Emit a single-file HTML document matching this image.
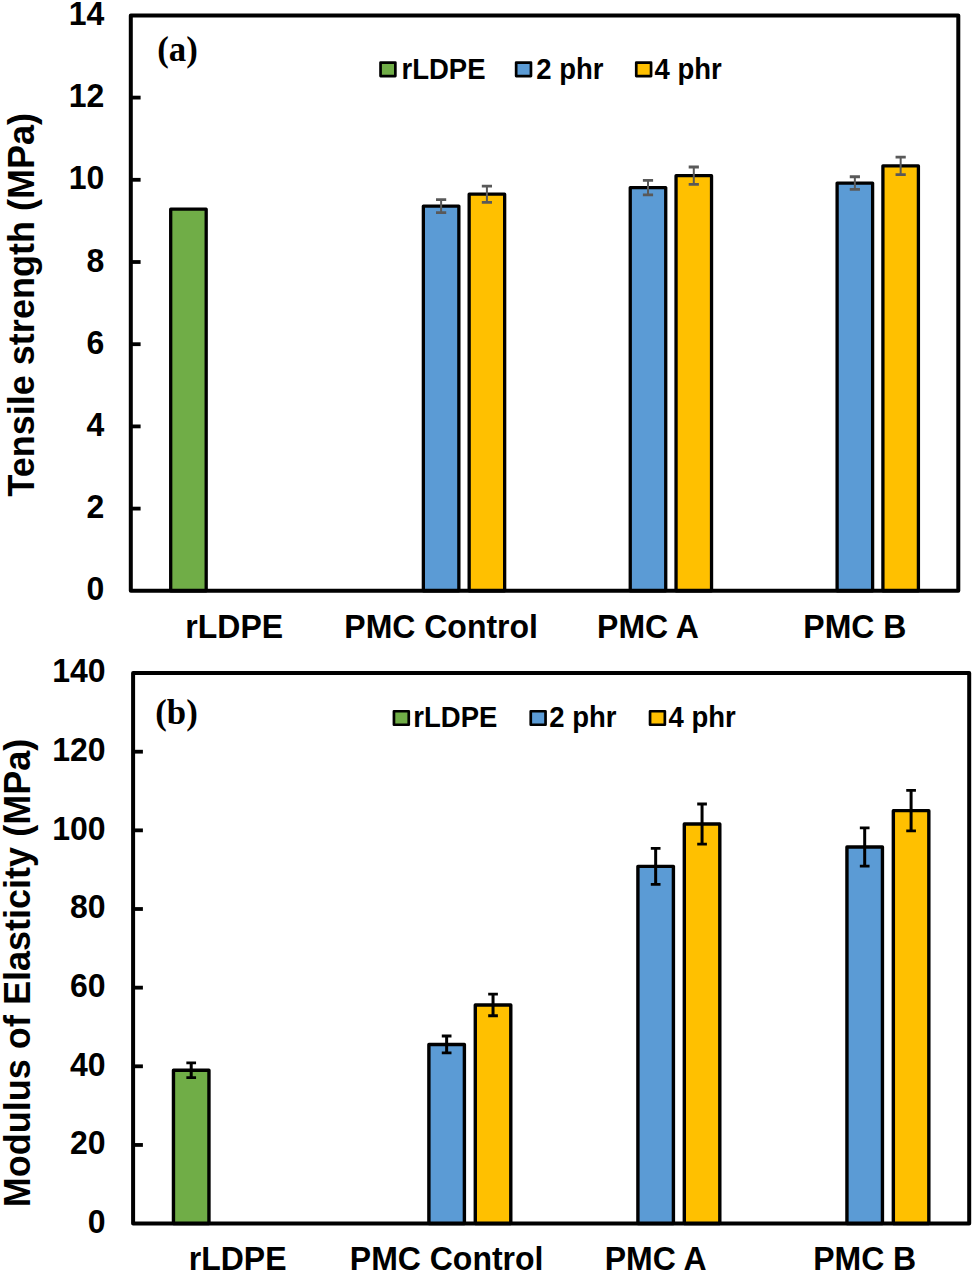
<!DOCTYPE html>
<html><head><meta charset="utf-8"><style>html,body{margin:0;padding:0;background:#fff;}svg{display:block;}</style></head>
<body><svg width="975" height="1274" viewBox="0 0 975 1274">
<rect width="975" height="1274" fill="#fff"/>
<rect x="170.69" y="209.19" width="35.5" height="381.61" fill="#70AD47" stroke="#000" stroke-width="3.3" stroke-linejoin="round"/>
<rect x="423.36" y="206.10" width="35.5" height="384.70" fill="#5B9BD5" stroke="#000" stroke-width="3.3" stroke-linejoin="round"/>
<path d="M441.11 199.61V212.60" stroke="#595959" stroke-width="2.0" fill="none"/>
<path d="M436.01 199.61H446.21M436.01 212.60H446.21" stroke="#595959" stroke-width="2.8" fill="none"/>
<rect x="469.16" y="194.18" width="35.5" height="396.62" fill="#FFC000" stroke="#000" stroke-width="3.3" stroke-linejoin="round"/>
<path d="M486.91 186.05V202.32" stroke="#595959" stroke-width="2.0" fill="none"/>
<path d="M481.81 186.05H492.01M481.81 202.32H492.01" stroke="#595959" stroke-width="2.8" fill="none"/>
<rect x="630.24" y="187.61" width="35.5" height="403.19" fill="#5B9BD5" stroke="#000" stroke-width="3.3" stroke-linejoin="round"/>
<path d="M647.99 180.42V194.80" stroke="#595959" stroke-width="2.0" fill="none"/>
<path d="M642.89 180.42H653.09M642.89 194.80H653.09" stroke="#595959" stroke-width="2.8" fill="none"/>
<rect x="676.04" y="175.69" width="35.5" height="415.11" fill="#FFC000" stroke="#000" stroke-width="3.3" stroke-linejoin="round"/>
<path d="M693.79 166.98V184.40" stroke="#595959" stroke-width="2.0" fill="none"/>
<path d="M688.69 166.98H698.89M688.69 184.40H698.89" stroke="#595959" stroke-width="2.8" fill="none"/>
<rect x="837.11" y="183.09" width="35.5" height="407.71" fill="#5B9BD5" stroke="#000" stroke-width="3.3" stroke-linejoin="round"/>
<path d="M854.86 176.76V189.42" stroke="#595959" stroke-width="2.0" fill="none"/>
<path d="M849.76 176.76H859.96M849.76 189.42H859.96" stroke="#595959" stroke-width="2.8" fill="none"/>
<rect x="882.91" y="165.83" width="35.5" height="424.97" fill="#FFC000" stroke="#000" stroke-width="3.3" stroke-linejoin="round"/>
<path d="M900.66 157.07V174.58" stroke="#595959" stroke-width="2.0" fill="none"/>
<path d="M895.56 157.07H905.76M895.56 174.58H905.76" stroke="#595959" stroke-width="2.8" fill="none"/>
<rect x="130.8" y="15.4" width="827.50" height="575.40" fill="none" stroke="#000" stroke-width="4" stroke-linejoin="round"/>
<text transform="translate(104.30,600.30) scale(1,1.04)" text-anchor="end" font-size="32" font-family="Liberation Sans, sans-serif" font-weight="bold" >0</text>
<path d="M130.8 508.60H140.60000000000002" stroke="#000" stroke-width="3.8"/>
<text transform="translate(104.30,518.10) scale(1,1.04)" text-anchor="end" font-size="32" font-family="Liberation Sans, sans-serif" font-weight="bold" >2</text>
<path d="M130.8 426.40H140.60000000000002" stroke="#000" stroke-width="3.8"/>
<text transform="translate(104.30,435.90) scale(1,1.04)" text-anchor="end" font-size="32" font-family="Liberation Sans, sans-serif" font-weight="bold" >4</text>
<path d="M130.8 344.20H140.60000000000002" stroke="#000" stroke-width="3.8"/>
<text transform="translate(104.30,353.70) scale(1,1.04)" text-anchor="end" font-size="32" font-family="Liberation Sans, sans-serif" font-weight="bold" >6</text>
<path d="M130.8 262.00H140.60000000000002" stroke="#000" stroke-width="3.8"/>
<text transform="translate(104.30,271.50) scale(1,1.04)" text-anchor="end" font-size="32" font-family="Liberation Sans, sans-serif" font-weight="bold" >8</text>
<path d="M130.8 179.80H140.60000000000002" stroke="#000" stroke-width="3.8"/>
<text transform="translate(104.30,189.30) scale(1,1.04)" text-anchor="end" font-size="32" font-family="Liberation Sans, sans-serif" font-weight="bold" >10</text>
<path d="M130.8 97.60H140.60000000000002" stroke="#000" stroke-width="3.8"/>
<text transform="translate(104.30,107.10) scale(1,1.04)" text-anchor="end" font-size="32" font-family="Liberation Sans, sans-serif" font-weight="bold" >12</text>
<text transform="translate(104.30,24.90) scale(1,1.04)" text-anchor="end" font-size="32" font-family="Liberation Sans, sans-serif" font-weight="bold" >14</text>
<text transform="translate(234.24,637.50) scale(1,1.04)" text-anchor="middle" font-size="32" font-family="Liberation Sans, sans-serif" font-weight="bold" >rLDPE</text>
<text transform="translate(441.11,637.50) scale(1,1.04)" text-anchor="middle" font-size="32" font-family="Liberation Sans, sans-serif" font-weight="bold" >PMC Control</text>
<text transform="translate(647.99,637.50) scale(1,1.04)" text-anchor="middle" font-size="32" font-family="Liberation Sans, sans-serif" font-weight="bold" >PMC A</text>
<text transform="translate(854.86,637.50) scale(1,1.04)" text-anchor="middle" font-size="32" font-family="Liberation Sans, sans-serif" font-weight="bold" >PMC B</text>
<text transform="translate(33.6,304.8) rotate(-90) scale(1,1.04)" text-anchor="middle" font-size="36.05" font-family="Liberation Sans, sans-serif" font-weight="bold">Tensile strength (MPa)</text>
<text x="157.2" y="60.6" font-size="34.8" font-family="Liberation Serif, serif" font-weight="bold">(a)</text>
<rect x="380.55" y="62.55" width="14.8" height="13.5" fill="#70AD47" stroke="#000" stroke-width="2.7" stroke-linejoin="round"/>
<text transform="translate(401.50,78.60) scale(1,1.04)" text-anchor="start" font-size="27.5" font-family="Liberation Sans, sans-serif" font-weight="bold" >rLDPE</text>
<rect x="516.15" y="62.55" width="14.8" height="13.5" fill="#5B9BD5" stroke="#000" stroke-width="2.7" stroke-linejoin="round"/>
<text transform="translate(536.30,78.60) scale(1,1.04)" text-anchor="start" font-size="27.5" font-family="Liberation Sans, sans-serif" font-weight="bold" >2 phr</text>
<rect x="636.25" y="62.55" width="14.8" height="13.5" fill="#FFC000" stroke="#000" stroke-width="2.7" stroke-linejoin="round"/>
<text transform="translate(654.60,78.60) scale(1,1.04)" text-anchor="start" font-size="27.5" font-family="Liberation Sans, sans-serif" font-weight="bold" >4 phr</text>
<rect x="173.46" y="1070.23" width="35.5" height="153.37" fill="#70AD47" stroke="#000" stroke-width="3.4" stroke-linejoin="round"/>
<path d="M191.21 1062.80V1077.66" stroke="#000" stroke-width="3" fill="none"/>
<path d="M186.36 1062.80H196.06M186.36 1077.66H196.06" stroke="#000" stroke-width="2.8" fill="none"/>
<rect x="428.89" y="1044.47" width="35.5" height="179.13" fill="#5B9BD5" stroke="#000" stroke-width="3.4" stroke-linejoin="round"/>
<path d="M446.64 1035.98V1052.97" stroke="#000" stroke-width="3" fill="none"/>
<path d="M441.79 1035.98H451.49M441.79 1052.97H451.49" stroke="#000" stroke-width="2.8" fill="none"/>
<rect x="475.29" y="1004.95" width="35.5" height="218.65" fill="#FFC000" stroke="#000" stroke-width="3.4" stroke-linejoin="round"/>
<path d="M493.04 994.14V1015.77" stroke="#000" stroke-width="3" fill="none"/>
<path d="M488.19 994.14H497.89M488.19 1015.77H497.89" stroke="#000" stroke-width="2.8" fill="none"/>
<rect x="637.91" y="866.33" width="35.5" height="357.27" fill="#5B9BD5" stroke="#000" stroke-width="3.4" stroke-linejoin="round"/>
<path d="M655.66 848.36V884.30" stroke="#000" stroke-width="3" fill="none"/>
<path d="M650.81 848.36H660.51M650.81 884.30H660.51" stroke="#000" stroke-width="2.8" fill="none"/>
<rect x="684.31" y="824.06" width="35.5" height="399.54" fill="#FFC000" stroke="#000" stroke-width="3.4" stroke-linejoin="round"/>
<path d="M702.06 804.00V844.11" stroke="#000" stroke-width="3" fill="none"/>
<path d="M697.21 804.00H706.91M697.21 844.11H706.91" stroke="#000" stroke-width="2.8" fill="none"/>
<rect x="846.94" y="847.06" width="35.5" height="376.54" fill="#5B9BD5" stroke="#000" stroke-width="3.4" stroke-linejoin="round"/>
<path d="M864.69 827.95V866.18" stroke="#000" stroke-width="3" fill="none"/>
<path d="M859.84 827.95H869.54M859.84 866.18H869.54" stroke="#000" stroke-width="2.8" fill="none"/>
<rect x="893.34" y="810.65" width="35.5" height="412.95" fill="#FFC000" stroke="#000" stroke-width="3.4" stroke-linejoin="round"/>
<path d="M911.09 790.44V830.86" stroke="#000" stroke-width="3" fill="none"/>
<path d="M906.24 790.44H915.94M906.24 830.86H915.94" stroke="#000" stroke-width="2.8" fill="none"/>
<rect x="133.1" y="673.05" width="836.10" height="550.55" fill="none" stroke="#000" stroke-width="4" stroke-linejoin="round"/>
<text transform="translate(105.50,1232.80) scale(1,1.04)" text-anchor="end" font-size="32" font-family="Liberation Sans, sans-serif" font-weight="bold" >0</text>
<path d="M133.1 1144.95H142.9" stroke="#000" stroke-width="3.8"/>
<text transform="translate(105.50,1154.15) scale(1,1.04)" text-anchor="end" font-size="32" font-family="Liberation Sans, sans-serif" font-weight="bold" >20</text>
<path d="M133.1 1066.30H142.9" stroke="#000" stroke-width="3.8"/>
<text transform="translate(105.50,1075.50) scale(1,1.04)" text-anchor="end" font-size="32" font-family="Liberation Sans, sans-serif" font-weight="bold" >40</text>
<path d="M133.1 987.65H142.9" stroke="#000" stroke-width="3.8"/>
<text transform="translate(105.50,996.85) scale(1,1.04)" text-anchor="end" font-size="32" font-family="Liberation Sans, sans-serif" font-weight="bold" >60</text>
<path d="M133.1 909.00H142.9" stroke="#000" stroke-width="3.8"/>
<text transform="translate(105.50,918.20) scale(1,1.04)" text-anchor="end" font-size="32" font-family="Liberation Sans, sans-serif" font-weight="bold" >80</text>
<path d="M133.1 830.35H142.9" stroke="#000" stroke-width="3.8"/>
<text transform="translate(105.50,839.55) scale(1,1.04)" text-anchor="end" font-size="32" font-family="Liberation Sans, sans-serif" font-weight="bold" >100</text>
<path d="M133.1 751.70H142.9" stroke="#000" stroke-width="3.8"/>
<text transform="translate(105.50,760.90) scale(1,1.04)" text-anchor="end" font-size="32" font-family="Liberation Sans, sans-serif" font-weight="bold" >120</text>
<text transform="translate(105.50,682.25) scale(1,1.04)" text-anchor="end" font-size="32" font-family="Liberation Sans, sans-serif" font-weight="bold" >140</text>
<text transform="translate(237.61,1270.30) scale(1,1.04)" text-anchor="middle" font-size="32" font-family="Liberation Sans, sans-serif" font-weight="bold" >rLDPE</text>
<text transform="translate(446.64,1270.30) scale(1,1.04)" text-anchor="middle" font-size="32" font-family="Liberation Sans, sans-serif" font-weight="bold" >PMC Control</text>
<text transform="translate(655.66,1270.30) scale(1,1.04)" text-anchor="middle" font-size="32" font-family="Liberation Sans, sans-serif" font-weight="bold" >PMC A</text>
<text transform="translate(864.69,1270.30) scale(1,1.04)" text-anchor="middle" font-size="32" font-family="Liberation Sans, sans-serif" font-weight="bold" >PMC B</text>
<text transform="translate(29.8,973.0) rotate(-90) scale(1,1.04)" text-anchor="middle" font-size="36.05" font-family="Liberation Sans, sans-serif" font-weight="bold">Modulus of Elasticity (MPa)</text>
<text x="155.2" y="723.6" font-size="34.8" font-family="Liberation Serif, serif" font-weight="bold">(b)</text>
<rect x="393.95" y="711.25" width="14.8" height="13.5" fill="#70AD47" stroke="#000" stroke-width="2.7" stroke-linejoin="round"/>
<text transform="translate(413.30,727.30) scale(1,1.04)" text-anchor="start" font-size="27.5" font-family="Liberation Sans, sans-serif" font-weight="bold" >rLDPE</text>
<rect x="530.75" y="711.25" width="14.8" height="13.5" fill="#5B9BD5" stroke="#000" stroke-width="2.7" stroke-linejoin="round"/>
<text transform="translate(549.30,727.30) scale(1,1.04)" text-anchor="start" font-size="27.5" font-family="Liberation Sans, sans-serif" font-weight="bold" >2 phr</text>
<rect x="650.05" y="711.25" width="14.8" height="13.5" fill="#FFC000" stroke="#000" stroke-width="2.7" stroke-linejoin="round"/>
<text transform="translate(668.50,727.30) scale(1,1.04)" text-anchor="start" font-size="27.5" font-family="Liberation Sans, sans-serif" font-weight="bold" >4 phr</text>
</svg></body></html>
